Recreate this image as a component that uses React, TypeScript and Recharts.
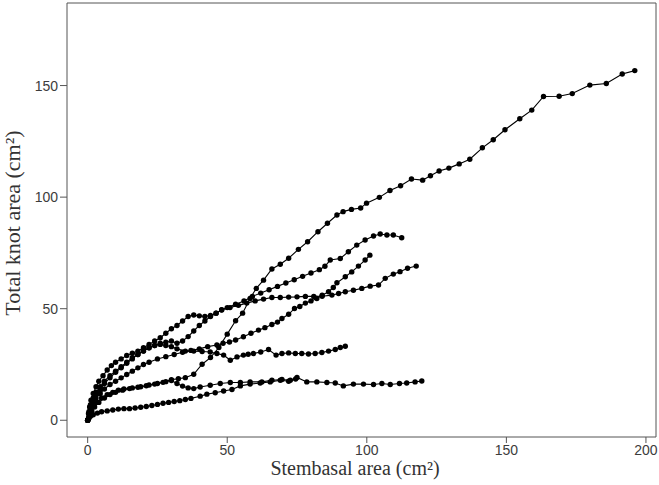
import React from 'react';
import {
  LineChart,
  Line,
  XAxis,
  YAxis,
  ReferenceArea,
  Label
} from 'recharts';

// Stem basal area (x) vs total knot area (y), one array per tree
const treeA: [number, number][] = [
  [0, 0], [0.3, 1], [0.8, 2.5], [1.5, 4], [2.5, 6], [4, 8], [6, 10], [8, 11.5], [10, 12.5],
  [12.5, 13.5], [15, 14.2], [18, 14.8], [21, 15.5], [24, 16.2], [27, 17], [30, 18.2],
  [32.5, 18.6], [35, 19.1], [38, 20.6], [41, 25.1], [44, 28.1], [47, 32.6], [50, 38.6],
  [53, 44.6], [55.5, 48], [58.2, 54.6], [60.4, 59.1], [63, 62.8], [66, 67.8], [69, 69.9],
  [72, 72.6], [75.5, 76.6], [78.8, 80], [82.5, 84.5], [85.9, 88.3], [89.3, 92], [91.5, 93.5],
  [94.5, 94.5], [97.8, 95.1], [99.9, 97.3], [104.5, 99.9], [108.3, 103], [112.1, 105.1],
  [116, 108.1], [120, 107.6], [122.8, 109.6], [125.9, 111.7], [129.4, 113], [133.1, 114.9],
  [136.9, 117], [141.4, 122.1], [145.3, 125.7], [149.5, 130.2], [154.8, 135.1], [159.1, 139],
  [163.3, 145.1], [168.9, 145.2], [173.6, 146.4], [179.9, 150.2], [185.8, 150.9],
  [191.5, 155.2], [196, 156.7]
];

const treeB: [number, number][] = [
  [0, 0], [0.3, 3], [0.7, 6], [1.2, 9], [2, 12], [3, 15], [4, 17.5], [5.5, 20], [7, 22.5],
  [8.5, 24.5], [10, 26], [12, 27.5], [14, 29], [16, 30], [18, 31], [20, 32.5], [22, 34],
  [24, 35.5], [26, 37], [28, 39], [30, 41], [32, 42.5], [34, 44.5], [36, 46.5], [38, 47.2],
  [40, 46.8], [42, 46.5], [44, 47], [46, 48], [48, 49.5], [50, 50.5], [53, 52], [56, 53.5],
  [59, 55.5], [62, 57], [65, 58.5], [68, 60], [71, 61.5], [74, 63], [77, 64.5], [80, 66],
  [83, 67.5], [85, 69], [86.9, 71.8], [90.5, 72.5], [93.4, 75.5], [96.4, 78.5], [99.4, 80.8],
  [102.4, 82.6], [104.8, 83.5], [107.2, 83], [109.5, 83], [112.5, 81.8]
];

const treeC: [number, number][] = [
  [0, 0], [0.5, 3], [1, 5.5], [2, 8], [3, 10], [4.5, 12], [6, 14], [8, 16], [10, 17.5],
  [12, 19], [14, 20.5], [16, 22], [18, 23.5], [20, 25], [22, 26], [25, 27.5], [28, 28.5],
  [31, 29.5], [34, 30.5], [37, 31.3], [40, 32], [43, 33], [46.3, 33.7], [48.5, 34.5],
  [50.8, 35.1], [53, 36], [55.8, 37.4], [58.5, 39], [61.2, 40.4], [63.5, 41.5], [66, 42.9],
  [68, 44], [69.6, 45.6], [72, 47.5], [74.1, 50.1], [76, 51], [78, 52.5], [80, 53.5],
  [82.1, 54.6], [84, 56], [86.3, 57.6], [88, 59.5], [89.3, 61.6], [92.3, 64.3], [94.6, 66.5],
  [97, 69.1], [99.4, 71.8], [101.1, 74]
];

const treeD: [number, number][] = [
  [0, 0], [0.5, 4], [1, 7], [2, 10], [3, 12.5], [4.5, 15], [6, 17.5], [8, 20], [10, 22],
  [12, 24], [14, 26], [16, 28], [18, 29.5], [20, 31], [22, 32.5], [24, 33.5], [26, 34.5],
  [28, 35], [30, 35.5], [32, 34.5], [34, 35.5], [36, 37.5], [38, 40], [40, 42.5], [42, 44.5],
  [44, 46.5], [46, 48], [48, 49.4], [51, 50.5], [54, 51.5], [57, 52.5], [60, 53.5],
  [63, 54.3], [66, 55], [69, 55], [72, 55.2], [75, 55.3], [78, 55.5], [81, 55.5], [84, 55.6],
  [87.5, 56.1], [89.9, 56.8], [92.3, 57.6], [95.2, 58.3], [98.2, 59.1], [101.2, 60.1],
  [104.2, 60.6], [106.6, 63.6], [109.5, 65.5], [111.9, 66.6], [114.6, 68.1], [117.7, 69.1]
];

const treeE: [number, number][] = [
  [0, 0], [0.5, 3], [1, 6], [2, 9], [3, 11.5], [4.5, 14], [6, 16.5], [8, 19], [10, 21.5],
  [12, 23.5], [14, 25.5], [16, 27.5], [18, 29.5], [20, 31], [22, 32.5], [24, 33.5], [26, 34],
  [28, 33.5], [30, 33], [32, 32], [35, 31], [38, 31], [41, 30.8], [43.9, 30.6], [46.3, 29.9],
  [48.7, 29.2], [51.1, 26.9], [53.5, 28.4], [55.8, 29.2], [57.5, 29.6], [59.4, 29.9],
  [62, 30.6], [64.8, 31.7], [67.5, 29.2], [69.6, 29.9], [72, 30.2], [74.4, 29.9], [76.7, 29.9],
  [79.1, 29.7], [81.5, 29.9], [83.9, 30.4], [86.3, 31], [88.7, 31.7], [90.5, 32.6], [92.3, 33.2]
];

const treeF: [number, number][] = [
  [0, 0], [0.5, 2], [1, 4], [2, 6], [3.5, 8], [5, 10], [7, 11.5], [9, 12.5], [11, 13.5],
  [13, 14], [16, 14.5], [19, 15], [22, 15.8], [25, 16.5], [28, 17.3], [30, 17.8], [32, 16.5],
  [34, 15.3], [36, 14.5], [38, 14.2], [40.3, 14.9], [43.9, 15.7], [47.5, 16.5], [51.1, 16.9],
  [54.7, 16.9], [58.2, 17.2], [62.4, 17.2], [66, 17.9], [69.6, 18.3], [72.6, 17.9], [75, 19.2],
  [78.5, 17.2], [82.1, 17.2], [85.7, 16.9], [88.7, 16.7], [91.6, 15.4], [95.2, 16.2],
  [98.8, 16.2], [102.4, 16], [105.4, 16.5], [108.4, 16], [111.7, 16.5], [114.3, 16.7],
  [117.3, 17.2], [119.7, 17.6]
];

const treeG: [number, number][] = [
  [0, 0], [0.5, 1], [1, 1.8], [2, 2.5], [3.5, 3.2], [5, 3.8], [7, 4.2], [9, 4.6], [11, 5],
  [13, 5.2], [15, 5.2], [17, 5.5], [19, 5.8], [21, 6.2], [23, 6.6], [25, 7.1], [27, 7.6],
  [29, 8], [31, 8.4], [33, 8.8], [35, 9.3], [37, 9.8], [40.3, 10.8], [42.7, 11.7],
  [45.7, 12.3], [48.7, 13.1], [51.7, 13.8], [54.7, 15.4], [58.2, 16.2], [61.8, 16.7],
  [65.4, 17.2], [69, 17.9], [72, 17.5], [74.5, 18.5]
];

const trees = [treeA, treeB, treeC, treeD, treeE, treeF, treeG];

const xTicks = [0, 50, 100, 150, 200];
const yTicks = [0, 50, 100, 150];
const xDomain = [-7.4, 203.6];
const yDomain = [-7.5, 187];

const tickStyle = { fill: '#3c3c3c', fontSize: 14, fontFamily: 'Liberation Sans, Arial, sans-serif' };
const titleFont = 'Liberation Serif, Times New Roman, serif';

export default function App() {
  return (
    <div style={{ position: 'absolute', left: 0, top: 0, width: 659, height: 485, background: '#fff' }}>
      <LineChart width={659} height={485} margin={{ top: 3, right: 3, bottom: 0, left: 0 }}>
        <XAxis
          type="number"
          dataKey="x"
          domain={xDomain}
          ticks={xTicks}
          allowDataOverflow
          axisLine={false}
          tickLine={{ stroke: '#555' }}
          tickSize={6}
          tick={tickStyle}
          height={48}
        >
          <Label
            content={() => (
              <text x={355} y={475} textAnchor="middle" fontFamily={titleFont} fontSize={20} fill="#333">
                Stembasal area (cm²)
              </text>
            )}
          />
        </XAxis>
        <YAxis
          type="number"
          domain={yDomain}
          ticks={yTicks}
          allowDataOverflow
          axisLine={false}
          tickLine={{ stroke: '#555' }}
          tickSize={7}
          tick={tickStyle}
          width={67}
        >
          <Label
            content={() => (
              <text
                x={20}
                y={223}
                textAnchor="middle"
                transform="rotate(-90 20 223)"
                fontFamily={titleFont}
                fontSize={22}
                fill="#333"
              >
                Total knot area (cm²)
              </text>
            )}
          />
        </YAxis>
        <ReferenceArea
          x1={xDomain[0]}
          x2={xDomain[1]}
          y1={yDomain[0]}
          y2={yDomain[1]}
          fill="none"
          stroke="#555"
          strokeWidth={1}
          ifOverflow="visible"
        />
        {trees.map((t, i) => (
          <Line
            key={i}
            data={t.map(([x, y]) => ({ x, y }))}
            dataKey="y"
            type="linear"
            stroke="#000"
            strokeWidth={1.1}
            dot={{ r: 2.7, fill: '#000', stroke: 'none' }}
            activeDot={false}
            isAnimationActive={false}
          />
        ))}
      </LineChart>
    </div>
  );
}
